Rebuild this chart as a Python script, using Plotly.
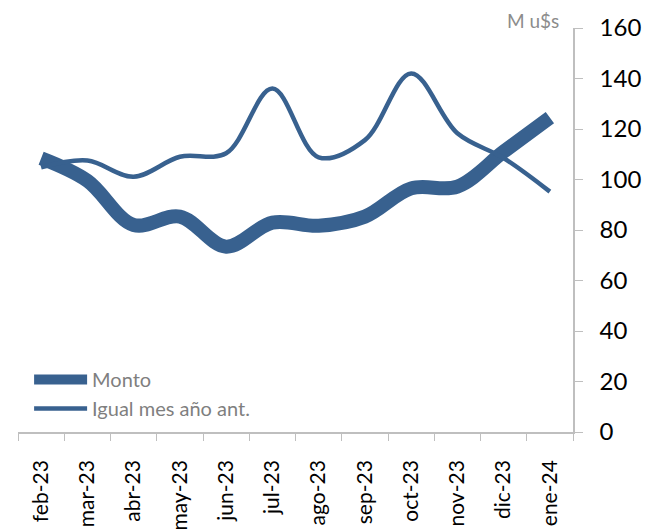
import plotly.graph_objects as go

months = ["feb-23", "mar-23", "abr-23", "may-23", "jun-23", "jul-23",
          "ago-23", "sep-23", "oct-23", "nov-23", "dic-23", "ene-24"]
monto = [108.4, 99.5, 82.0, 85.3, 73.4, 82.9, 81.7, 85.3, 96.5, 97.2, 111.0, 124.5]
igual_mes = [104.8, 107.5, 101.1, 109.0, 110.4, 136.0, 108.8, 115.6, 142.0, 118.3, 108.5, 95.2]

COLOR = "#38618F"
GRAY_AX = "#BFBFBF"
FONT = "Lato, 'Open Sans', sans-serif"

fig = go.Figure()
fig.add_trace(go.Scatter(
    x=months, y=monto, name="Monto", mode="lines",
    line=dict(color=COLOR, width=14, shape="spline", smoothing=1.0),
))
fig.add_trace(go.Scatter(
    x=months, y=igual_mes, name="Igual mes año ant.", mode="lines",
    line=dict(color=COLOR, width=4.5, shape="spline", smoothing=1.0),
))

fig.update_layout(
    width=650, height=530,
    margin=dict(l=18, r=77, t=28, b=98),
    paper_bgcolor="white", plot_bgcolor="white",
    font=dict(family=FONT, color="black"),
    showlegend=True,
    legend=dict(x=0.02, y=0.01, xanchor="left", yanchor="bottom",
                font=dict(size=20, color="#7F7F7F"), itemwidth=53,
                bgcolor="rgba(0,0,0,0)", tracegroupgap=0),
    xaxis=dict(
        type="category", range=[-0.5, 11.5], automargin=False,
        showline=True, linecolor=GRAY_AX, linewidth=1.5,
        ticks="outside", tickson="boundaries", ticklen=7, tickcolor=GRAY_AX,
        tickangle=-90, tickfont=dict(size=21, color="black"),
        ticklabelstandoff=18,
        showgrid=False, zeroline=False,
    ),
    yaxis=dict(
        side="right", range=[0, 160], dtick=20, automargin=False,
        showline=True, linecolor=GRAY_AX, linewidth=1.5,
        ticks="outside", ticklen=8, tickcolor=GRAY_AX,
        tickfont=dict(size=24, color="black"),
        ticklabelstandoff=12,
        showgrid=False, zeroline=False,
    ),
    annotations=[dict(
        text="M u$s", x=1.0, y=1.0, xref="paper", yref="paper",
        xanchor="right", yanchor="bottom", xshift=-12, yshift=-6,
        showarrow=False, font=dict(size=19, color="#8C8C8C", family=FONT),
    )],
)

fig.write_html("out.html", config={"displayModeBar": False},
               post_script="document.body.style.margin='0';")
